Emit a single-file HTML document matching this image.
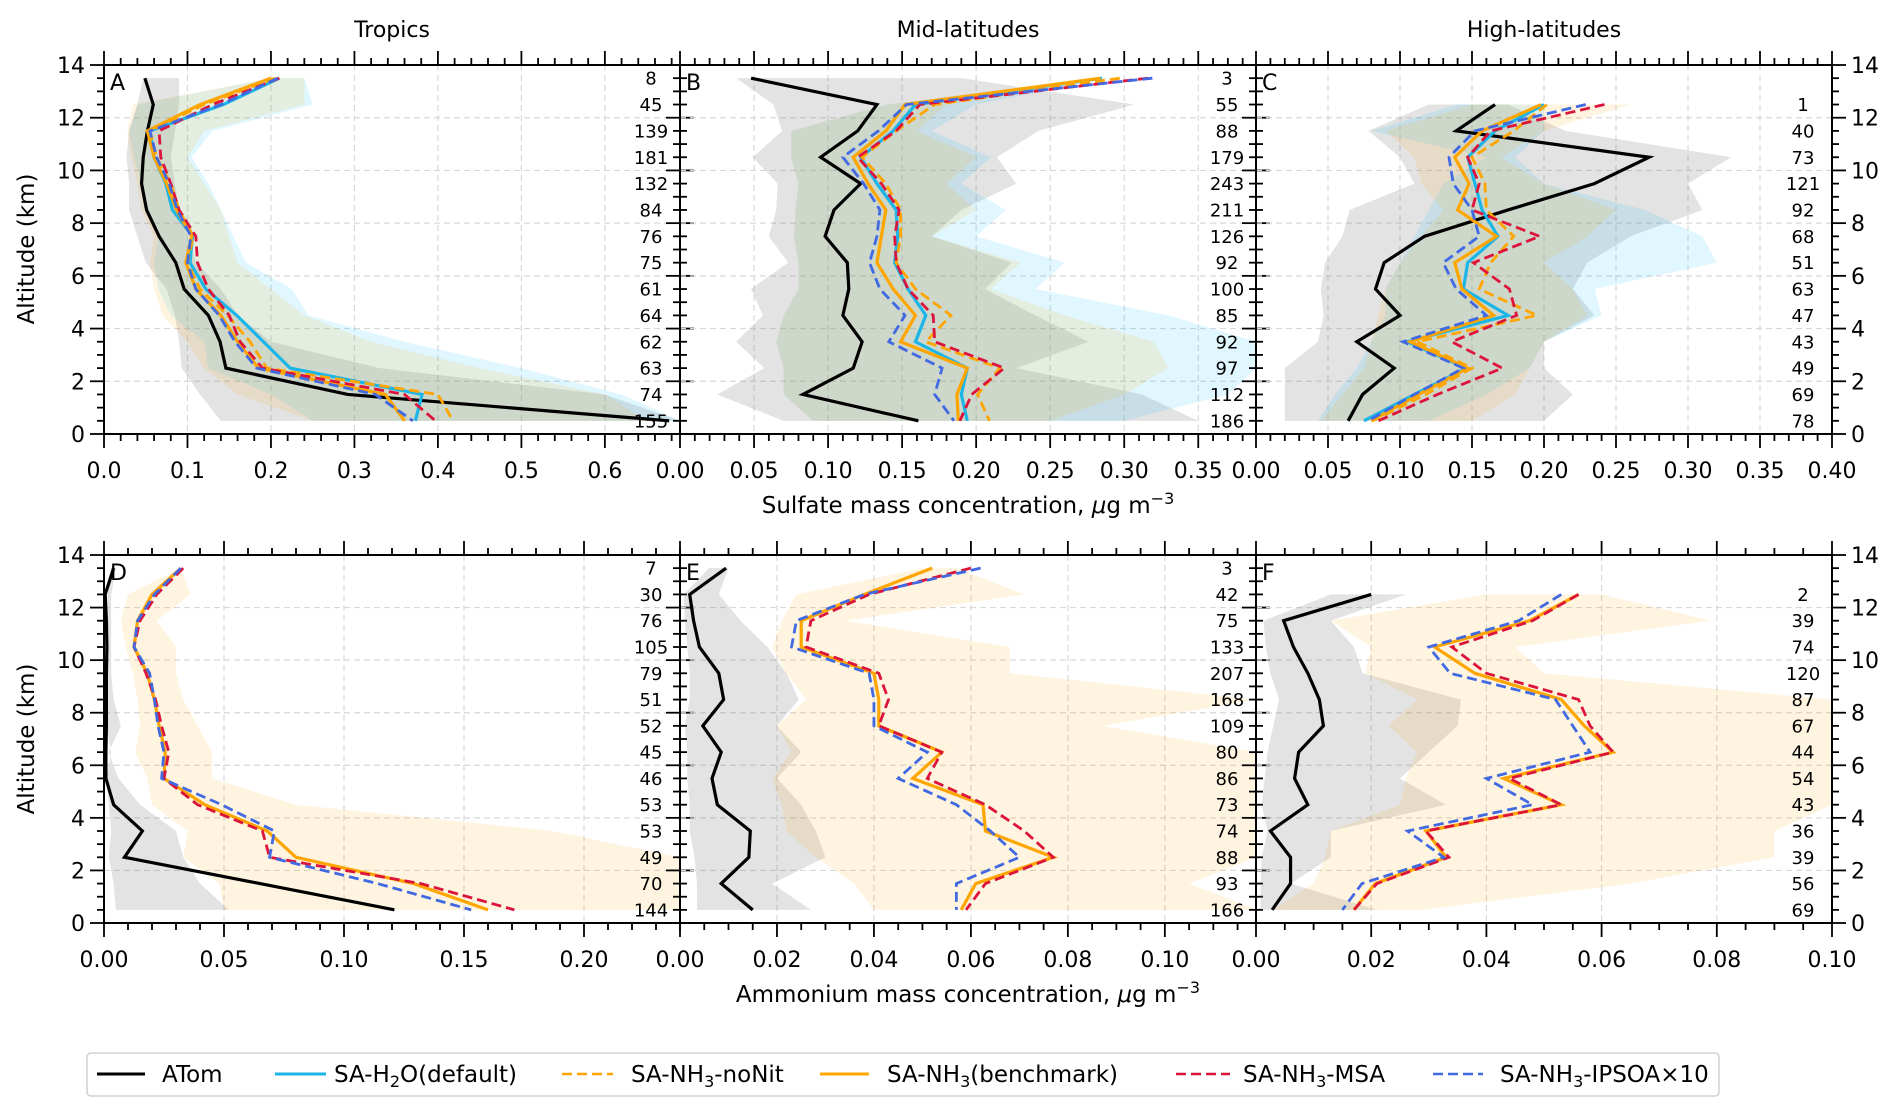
<!DOCTYPE html>
<html><head><meta charset="utf-8"><style>
html,body{margin:0;padding:0;background:#fff;}
svg{display:block;font-family:"DejaVu Sans","Liberation Sans",sans-serif;}
</style></head><body>
<svg id="fig" width="1892" height="1117" viewBox="0 0 1892 1117" xmlns="http://www.w3.org/2000/svg"></svg>
<script>
const altitudes = [13.5,12.5,11.5,10.5,9.5,8.5,7.5,6.5,5.5,4.5,3.5,2.5,1.5,0.5];
const N = null;
// ---- Panel A (Tropics sulfate)
const A_atom  = [0.049,0.059,0.052,0.047,0.045,0.051,0.066,0.086,0.096,0.125,0.139,0.146,0.292,0.677];
const A_h2o   = [0.21,0.143,0.055,0.06,0.074,0.082,0.106,0.103,0.122,0.159,0.191,0.223,0.381,0.373];
const A_nonit = [0.205,0.12,0.055,0.063,0.08,0.09,0.107,0.10,0.115,0.148,0.175,0.195,0.40,0.418];
const A_bench = [0.20,0.115,0.052,0.06,0.075,0.087,0.105,0.098,0.11,0.14,0.16,0.185,0.337,0.36];
const A_msa   = [0.21,0.13,0.066,0.068,0.08,0.09,0.11,0.112,0.125,0.15,0.163,0.19,0.36,0.397];
const A_ipsoa = [0.208,0.14,0.055,0.063,0.078,0.088,0.104,0.1,0.11,0.138,0.157,0.183,0.325,0.37];
const A_grayLo = [0.047,0.04,0.03,0.027,0.03,0.03,0.04,0.05,0.075,0.085,0.09,0.093,0.115,0.14];
const A_grayHi = [0.09,0.09,0.085,0.08,0.085,0.09,0.1,0.11,0.14,0.16,0.2,0.33,0.6,0.69];
const A_cyanLo = [0.2,0.04,0.03,0.036,0.045,0.05,0.065,0.06,0.065,0.08,0.12,0.125,0.2,0.25];
const A_cyanHi = [0.24,0.25,0.13,0.105,0.125,0.14,0.155,0.17,0.225,0.245,0.36,0.5,0.62,0.69];
const A_orLo = [0.2,0.035,0.028,0.033,0.04,0.045,0.06,0.055,0.06,0.07,0.1,0.12,0.16,0.25];
const A_orHi = [0.24,0.24,0.12,0.1,0.12,0.14,0.15,0.16,0.2,0.24,0.32,0.45,0.6,0.65];
const A_counts = [8,45,139,181,132,84,76,75,61,64,62,63,74,155];
// ---- Panel B (Mid-latitudes sulfate)
const B_atom  = [0.048,0.133,0.12,0.095,0.122,0.104,0.098,0.113,0.114,0.11,0.123,0.117,0.083,0.161];
const B_h2o   = [0.285,0.159,0.144,0.122,0.133,0.146,0.147,0.145,0.154,0.166,0.159,0.194,0.19,0.194];
const B_nonit = [0.297,0.172,0.146,0.123,0.139,0.149,0.149,0.146,0.159,0.183,0.166,0.216,0.201,0.209];
const B_bench = [0.284,0.152,0.139,0.117,0.127,0.139,0.136,0.133,0.144,0.159,0.149,0.194,0.187,0.188];
const B_msa   = [0.316,0.162,0.146,0.12,0.136,0.148,0.145,0.146,0.154,0.171,0.172,0.219,0.197,0.189];
const B_ipsoa = [0.319,0.153,0.134,0.110,0.124,0.135,0.133,0.128,0.135,0.152,0.141,0.177,0.172,0.185];
const B_grayLo = [0.038,0.063,0.069,0.049,0.066,0.065,0.06,0.073,0.048,0.056,0.038,0.057,0.025,0.07];
const B_grayHi = [0.19,0.307,0.242,0.214,0.227,0.19,0.17,0.224,0.206,0.24,0.276,0.227,0.312,0.35];
const B_cyanLo = [0.28,0.14,0.075,0.075,0.08,0.078,0.077,0.08,0.08,0.07,0.065,0.07,0.07,0.09];
const B_cyanHi = [0.29,0.2,0.17,0.21,0.19,0.22,0.2,0.26,0.24,0.33,0.389,0.389,0.37,0.3];
const B_orLo = [0.28,0.14,0.075,0.075,0.08,0.078,0.077,0.08,0.08,0.07,0.065,0.07,0.07,0.09];
const B_orHi = [0.29,0.18,0.16,0.2,0.18,0.2,0.17,0.23,0.21,0.26,0.32,0.33,0.3,0.25];
const B_counts = [3,55,88,179,243,211,126,92,100,85,92,97,112,186];
// ---- Panel C (High-latitudes sulfate)
const C_atom  = [N,0.166,0.139,0.273,0.235,0.175,0.117,0.089,0.083,0.1,0.07,0.096,0.074,0.064];
const C_h2o   = [N,0.2,0.166,0.147,0.152,0.157,0.168,0.147,0.144,0.175,0.105,0.146,0.11,0.075];
const C_nonit = [N,0.202,0.179,0.15,0.159,0.16,0.179,0.163,0.155,0.195,0.112,0.15,0.118,0.081];
const C_bench = [N,0.198,0.157,0.138,0.148,0.14,0.167,0.138,0.143,0.165,0.107,0.147,0.113,0.08];
const C_msa   = [N,0.242,0.163,0.147,0.155,0.15,0.197,0.151,0.176,0.181,0.136,0.171,0.126,0.085];
const C_ipsoa = [N,0.229,0.152,0.134,0.137,0.15,0.155,0.13,0.139,0.16,0.102,0.144,0.11,0.078];
const C_grayLo = [N,0.12,0.078,0.1,0.11,0.065,0.06,0.048,0.045,0.047,0.043,0.02,0.02,0.02];
const C_grayHi = [N,0.175,0.215,0.33,0.3,0.31,0.26,0.23,0.22,0.235,0.2,0.2,0.22,0.2];
const C_cyanLo = [N,0.14,0.08,0.16,0.13,0.12,0.11,0.1,0.09,0.09,0.08,0.07,0.055,0.043];
const C_cyanHi = [N,0.2,0.2,0.18,0.2,0.27,0.31,0.32,0.235,0.24,0.2,0.19,0.16,0.12];
const C_orLo = [N,0.15,0.09,0.11,0.115,0.13,0.115,0.1,0.09,0.085,0.08,0.075,0.06,0.045];
const C_orHi = [N,0.26,0.2,0.17,0.2,0.25,0.23,0.2,0.22,0.23,0.2,0.19,0.18,0.15];
const C_counts = [N,1,40,73,121,92,68,51,63,47,43,49,69,78];
// ---- Panel D (Tropics ammonium)
const D_atom  = [0.004,0.0005,0.001,0.0012,0.001,0.001,0.001,0.0008,0.0008,0.004,0.016,0.0085,0.065,0.121];
const D_bench = [0.032,0.02,0.014,0.0125,0.018,0.021,0.023,0.0255,0.025,0.042,0.068,0.08,0.129,0.16];
const D_msa   = [0.033,0.022,0.015,0.0125,0.0175,0.0215,0.024,0.027,0.025,0.039,0.066,0.069,0.132,0.171];
const D_ipsoa = [0.032,0.021,0.014,0.0125,0.019,0.021,0.0225,0.025,0.024,0.049,0.071,0.069,0.114,0.153];
const D_grayLo = [0.003,0.0015,0.0015,0.0015,0.0015,0.0015,0.001,0.003,0.001,0.002,0.003,0.002,0.004,0.005];
const D_grayHi = [0.005,0.003,0.003,0.003,0.003,0.004,0.007,0.002,0.006,0.015,0.03,0.033,0.04,0.052];
const D_orLo = [0.032,0.01,0.007,0.009,0.012,0.014,0.015,0.013,0.018,0.02,0.035,0.033,0.048,0.05];
const D_orHi = [0.032,0.036,0.022,0.03,0.03,0.033,0.039,0.045,0.045,0.08,0.187,0.24,0.24,0.24];
const D_counts = [7,30,76,105,79,51,52,45,46,53,53,49,70,144];
// ---- Panel E (Mid-latitudes ammonium)
const E_atom  = [0.0095,0.002,0.0028,0.004,0.008,0.009,0.0047,0.0085,0.0066,0.0077,0.0145,0.0142,0.0085,0.015];
const E_bench = [0.052,0.038,0.025,0.025,0.04,0.041,0.041,0.054,0.048,0.0625,0.063,0.077,0.061,0.058];
const E_msa   = [0.06,0.039,0.027,0.026,0.041,0.043,0.041,0.054,0.051,0.063,0.071,0.077,0.063,0.059];
const E_ipsoa = [0.062,0.038,0.024,0.023,0.039,0.04,0.04,0.051,0.045,0.057,0.064,0.07,0.057,0.057];
const E_grayLo = [0.006,0.0008,0.001,0.0015,0.002,0.002,0.001,0.0015,0.0015,0.002,0.002,0.003,0.0035,0.0035];
const E_grayHi = [0.01,0.008,0.0125,0.018,0.022,0.0245,0.02,0.025,0.02,0.025,0.028,0.03,0.019,0.027];
const E_orLo = [0.05,0.024,0.021,0.019,0.022,0.026,0.02,0.023,0.019,0.021,0.022,0.028,0.036,0.04];
const E_orHi = [0.057,0.071,0.034,0.068,0.068,0.119,0.087,0.119,0.119,0.119,0.119,0.119,0.105,0.119];
const E_counts = [3,42,75,133,207,168,109,80,86,73,74,88,93,166];
// ---- Panel F (High-latitudes ammonium)
const F_atom  = [N,0.02,0.0048,0.0065,0.009,0.011,0.0117,0.0074,0.0067,0.009,0.0025,0.006,0.006,0.0028];
const F_bench = [N,0.056,0.0475,0.031,0.038,0.053,0.057,0.062,0.043,0.053,0.0295,0.033,0.0207,0.017];
const F_msa   = [N,0.056,0.048,0.034,0.04,0.056,0.058,0.062,0.044,0.053,0.0295,0.0335,0.021,0.017];
const F_ipsoa = [N,0.053,0.0456,0.03,0.0337,0.052,0.055,0.058,0.04,0.048,0.0263,0.0326,0.0184,0.015];
const F_grayLo = [N,0.013,0.0013,0.0017,0.0025,0.004,0.003,0.002,0.0015,0.001,0.002,0.001,0.0008,0.0008];
const F_grayHi = [N,0.026,0.013,0.017,0.0185,0.0356,0.035,0.03,0.025,0.033,0.013,0.013,0.006,0.021];
const F_orLo = [N,0.04,0.013,0.02,0.019,0.028,0.023,0.028,0.026,0.025,0.013,0.012,0.01,0.003];
const F_orHi = [N,0.06,0.079,0.045,0.05,0.1,0.1,0.1,0.1,0.1,0.09,0.09,0.065,0.029];
const F_counts = [N,2,39,74,120,87,67,44,54,43,36,39,56,69];
// ---- tick labels
const tickA = [0,0.1,0.2,0.3,0.4,0.5,0.6];
const tickB = [0,0.05,0.1,0.15,0.2,0.25,0.3,0.35];
const tickC = [0,0.05,0.1,0.15,0.2,0.25,0.3,0.35,0.4];
const tickD = [0,0.05,0.1,0.15,0.2];
const tickE = [0,0.02,0.04,0.06,0.08,0.1];
const tickF = [0,0.02,0.04,0.06,0.08,0.1];
const yTicks = [0,2,4,6,8,10,12,14];

const NS = "http://www.w3.org/2000/svg";
const svg = document.getElementById('fig');
function mk(tag, attrs, parent) {
  const e = document.createElementNS(NS, tag);
  for (const k in attrs) e.setAttribute(k, attrs[k]);
  (parent || svg).appendChild(e);
  return e;
}
const COL = {atom:'#000000', h2o:'#1cb5e8', nonit:'#ffa500', bench:'#ffa500', msa:'#dc143c', ipsoa:'#4169e1'};

function panel(p) {
  const g = mk('g', {});
  
  
  const W = p.x1 - p.x0, H = p.y1 - p.y0;
  const sx = v => p.x0 + v / p.xmax * W;
  const sy = a => p.y1 - a / 14 * H;
  const cid = 'clip' + p.letter;
  const cp = mk('clipPath', {id: cid}, g);
  mk('rect', {x: p.x0, y: p.y0, width: W, height: H}, cp);
  const plot = mk('g', {'clip-path': 'url(#' + cid + ')'}, g);
  for (const t of p.ticks) {
    const gl = mk('line', {x1: sx(t), x2: sx(t), y1: p.y0, y2: p.y1, stroke: '#d8d8d8', 'stroke-width': 1.2, 'stroke-dasharray': '6,4'}, plot);
    
    
  }
  for (const t of yTicks) {
    const gl = mk('line', {x1: p.x0, x2: p.x1, y1: sy(t), y2: sy(t), stroke: '#d8d8d8', 'stroke-width': 1.2, 'stroke-dasharray': '6,4'}, plot);
    
    
  }
  function band(lo, hi, fill, op, name) {
    const pts = [];
    for (let i = 0; i < altitudes.length; i++) if (lo[i] !== null) pts.push(sx(lo[i]) + ',' + sy(altitudes[i]));
    for (let i = altitudes.length - 1; i >= 0; i--) if (hi[i] !== null) pts.push(sx(hi[i]) + ',' + sy(altitudes[i]));
    const b = mk('polygon', {points: pts.join(' '), fill: fill, 'fill-opacity': op, stroke: 'none'}, plot);
    
    
  }
  function line(vals, color, dash, name) {
    const pts = [];
    for (let i = 0; i < altitudes.length; i++) if (vals[i] !== null) pts.push(sx(vals[i]) + ',' + sy(altitudes[i]));
    const l = mk('polyline', {points: pts.join(' '), fill: 'none', stroke: color, 'stroke-width': dash ? 2.8 : 3.2, 'stroke-linejoin': 'miter'}, plot);
    if (dash) l.setAttribute('stroke-dasharray', '10,5');
    
    
  }
  band(p.grayLo, p.grayHi, '#808080', 0.22, 'atom-range-band');
  if (p.cyanLo) band(p.cyanLo, p.cyanHi, '#00bfff', 0.12, 'h2o-range-band');
  band(p.orLo, p.orHi, '#ffa500', 0.12, 'benchmark-range-band');
  line(p.atom, COL.atom, false, 'atom-line');
  if (p.h2o) line(p.h2o, COL.h2o, false, 'h2o-default-line');
  if (p.nonit) line(p.nonit, COL.nonit, true, 'nonit-line');
  line(p.bench, COL.bench, false, 'benchmark-line');
  line(p.msa, COL.msa, true, 'msa-line');
  line(p.ipsoa, COL.ipsoa, true, 'ipsoa-line');
  for (let i = 0; i < altitudes.length; i++) {
    if (p.counts[i] === null) continue;
    const t = mk('text', {x: p.x1 - 29, y: sy(altitudes[i]) + 6.5, 'font-size': 18, 'text-anchor': 'middle', fill: '#000'}, g);
    t.textContent = p.counts[i];
    
    
  }
  const lt = mk('text', {x: p.x0 + 6, y: p.y0 + 25, 'font-size': 22, fill: '#000'}, g);
  lt.textContent = p.letter;
  
  
  const fr = mk('rect', {x: p.x0, y: p.y0, width: W, height: H, fill: 'none', stroke: '#000', 'stroke-width': 2}, g);
  
  
  const tk = mk('g', {stroke: '#000', 'stroke-width': 1.8}, g);
  
  
  const nMinor = Math.floor(p.xmax / p.minor + 1e-6);
  for (let i = 0; i <= nMinor; i++) {
    const x = sx(i * p.minor);
    const major = p.ticks.some(t => Math.abs(t - i * p.minor) < 1e-9);
    const L = major ? 14 : 7;
    mk('line', {x1: x, x2: x, y1: p.y1, y2: p.y1 + L}, tk);
    mk('line', {x1: x, x2: x, y1: p.y0, y2: p.y0 - L}, tk);
  }
  for (let i = 0; i <= 28; i++) {
    const y = sy(i * 0.5);
    const L = (i % 4 === 0) ? 14 : 7;
    mk('line', {x1: p.x0, x2: p.x0 - L, y1: y, y2: y}, tk);
    mk('line', {x1: p.x1, x2: p.x1 + L, y1: y, y2: y}, tk);
  }
  for (const t of p.ticks) {
    const tl = mk('text', {x: sx(t), y: p.y1 + 44, 'font-size': 22, 'text-anchor': 'middle', fill: '#000'}, g);
    tl.textContent = t.toFixed(p.dec);
    
    
  }
  if (p.leftLabels || p.rightLabels) {
    for (const t of yTicks) {
      const yl = p.leftLabels
        ? mk('text', {x: p.x0 - 19, y: sy(t) + 8, 'font-size': 22, 'text-anchor': 'end', fill: '#000'}, g)
        : mk('text', {x: p.x1 + 19, y: sy(t) + 8, 'font-size': 22, 'text-anchor': 'start', fill: '#000'}, g);
      yl.textContent = t;
      
      
    }
  }
}

const T0 = 65, T1 = 434, B0 = 555, B1 = 923;
const X = [104, 680, 1256, 1832];
panel({letter:'A', x0:X[0], x1:X[1], y0:T0, y1:T1, xmax:0.69, ticks:tickA, minor:0.02, dec:1, leftLabels:true,
  atom:A_atom, h2o:A_h2o, nonit:A_nonit, bench:A_bench, msa:A_msa, ipsoa:A_ipsoa,
  grayLo:A_grayLo, grayHi:A_grayHi, cyanLo:A_cyanLo, cyanHi:A_cyanHi, orLo:A_orLo, orHi:A_orHi, counts:A_counts});
panel({letter:'B', x0:X[1], x1:X[2], y0:T0, y1:T1, xmax:0.389, ticks:tickB, minor:0.01, dec:2,
  atom:B_atom, h2o:B_h2o, nonit:B_nonit, bench:B_bench, msa:B_msa, ipsoa:B_ipsoa,
  grayLo:B_grayLo, grayHi:B_grayHi, cyanLo:B_cyanLo, cyanHi:B_cyanHi, orLo:B_orLo, orHi:B_orHi, counts:B_counts});
panel({letter:'C', x0:X[2], x1:X[3], y0:T0, y1:T1, xmax:0.40, ticks:tickC, minor:0.01, dec:2, rightLabels:true,
  atom:C_atom, h2o:C_h2o, nonit:C_nonit, bench:C_bench, msa:C_msa, ipsoa:C_ipsoa,
  grayLo:C_grayLo, grayHi:C_grayHi, cyanLo:C_cyanLo, cyanHi:C_cyanHi, orLo:C_orLo, orHi:C_orHi, counts:C_counts});
panel({letter:'D', x0:X[0], x1:X[1], y0:B0, y1:B1, xmax:0.24, ticks:tickD, minor:0.01, dec:2, leftLabels:true,
  atom:D_atom, bench:D_bench, msa:D_msa, ipsoa:D_ipsoa,
  grayLo:D_grayLo, grayHi:D_grayHi, orLo:D_orLo, orHi:D_orHi, counts:D_counts});
panel({letter:'E', x0:X[1], x1:X[2], y0:B0, y1:B1, xmax:0.1188, ticks:tickE, minor:0.005, dec:2,
  atom:E_atom, bench:E_bench, msa:E_msa, ipsoa:E_ipsoa,
  grayLo:E_grayLo, grayHi:E_grayHi, orLo:E_orLo, orHi:E_orHi, counts:E_counts});
panel({letter:'F', x0:X[2], x1:X[3], y0:B0, y1:B1, xmax:0.10, ticks:tickF, minor:0.005, dec:2, rightLabels:true,
  atom:F_atom, bench:F_bench, msa:F_msa, ipsoa:F_ipsoa,
  grayLo:F_grayLo, grayHi:F_grayHi, orLo:F_orLo, orHi:F_orHi, counts:F_counts});
</script>
<script>
(function(){
  const NS = "http://www.w3.org/2000/svg";
  const svg = document.getElementById('fig');
  function txt(x, y, s, size, name, anchor, rot) {
    const t = document.createElementNS(NS, 'text');
    t.setAttribute('x', x); t.setAttribute('y', y);
    t.setAttribute('font-size', size);
    t.setAttribute('text-anchor', anchor || 'middle');
    if (rot) t.setAttribute('transform', 'rotate(-90 ' + x + ' ' + y + ')');
    t.textContent = s;
    
    
    svg.appendChild(t);
    return t;
  }
  txt(392, 37, 'Tropics', 22, 'column-title-tropics');
  txt(968, 37, 'Mid-latitudes', 22, 'column-title-mid-latitudes');
  txt(1544, 37, 'High-latitudes', 22, 'column-title-high-latitudes');
  txt(34, 249, 'Altitude (km)', 23, 'y-axis-title-top', 'middle', true);
  txt(34, 739, 'Altitude (km)', 23, 'y-axis-title-bottom', 'middle', true);
  const xt1 = txt(968, 513, '', 23, 'x-axis-title-sulfate');
  xt1.innerHTML = 'Sulfate mass concentration, <tspan font-style="italic">μ</tspan>g m<tspan dy="-9" font-size="16">−3</tspan>';
  const xt2 = txt(968, 1002, '', 23, 'x-axis-title-ammonium');
  xt2.innerHTML = 'Ammonium mass concentration, <tspan font-style="italic">μ</tspan>g m<tspan dy="-9" font-size="16">−3</tspan>';
})();
</script>
<div style="position:absolute;left:0;top:0;width:1892px;height:1117px;pointer-events:none">
<svg width="1892" height="1117" style="position:absolute;left:0;top:0;font-family:'DejaVu Sans','Liberation Sans',sans-serif">
  <rect x="87" y="1053" width="1632" height="43" rx="4" fill="#fff" fill-opacity="0.85" stroke="#d0d0d0" stroke-width="1.5"/>
  <g>
    <line x1="97" y1="1074" x2="145" y2="1074" stroke="#000" stroke-width="3"/>
    <text x="162" y="1082" font-size="23">ATom</text>
  </g>
  <g>
    <line x1="275" y1="1074" x2="326" y2="1074" stroke="#1cb5e8" stroke-width="3"/>
    <text x="334" y="1082" font-size="23">SA-H<tspan dy="5" font-size="16">2</tspan><tspan dy="-5">O(default)</tspan></text>
  </g>
  <g>
    <line x1="562" y1="1074" x2="613" y2="1074" stroke="#ffa500" stroke-width="2.6" stroke-dasharray="10,5"/>
    <text x="631" y="1082" font-size="23">SA-NH<tspan dy="5" font-size="16">3</tspan><tspan dy="-5">-noNit</tspan></text>
  </g>
  <g>
    <line x1="820" y1="1074" x2="869" y2="1074" stroke="#ffa500" stroke-width="3"/>
    <text x="887" y="1082" font-size="23">SA-NH<tspan dy="5" font-size="16">3</tspan><tspan dy="-5">(benchmark)</tspan></text>
  </g>
  <g>
    <line x1="1176" y1="1074" x2="1230" y2="1074" stroke="#dc143c" stroke-width="2.6" stroke-dasharray="10,5"/>
    <text x="1243" y="1082" font-size="23">SA-NH<tspan dy="5" font-size="16">3</tspan><tspan dy="-5">-MSA</tspan></text>
  </g>
  <g>
    <line x1="1433" y1="1074" x2="1483" y2="1074" stroke="#4169e1" stroke-width="2.6" stroke-dasharray="10,5"/>
    <text x="1500" y="1082" font-size="23">SA-NH<tspan dy="5" font-size="16">3</tspan><tspan dy="-5">-IPSOA×10</tspan></text>
  </g>
</svg>
</div>
</body></html>
